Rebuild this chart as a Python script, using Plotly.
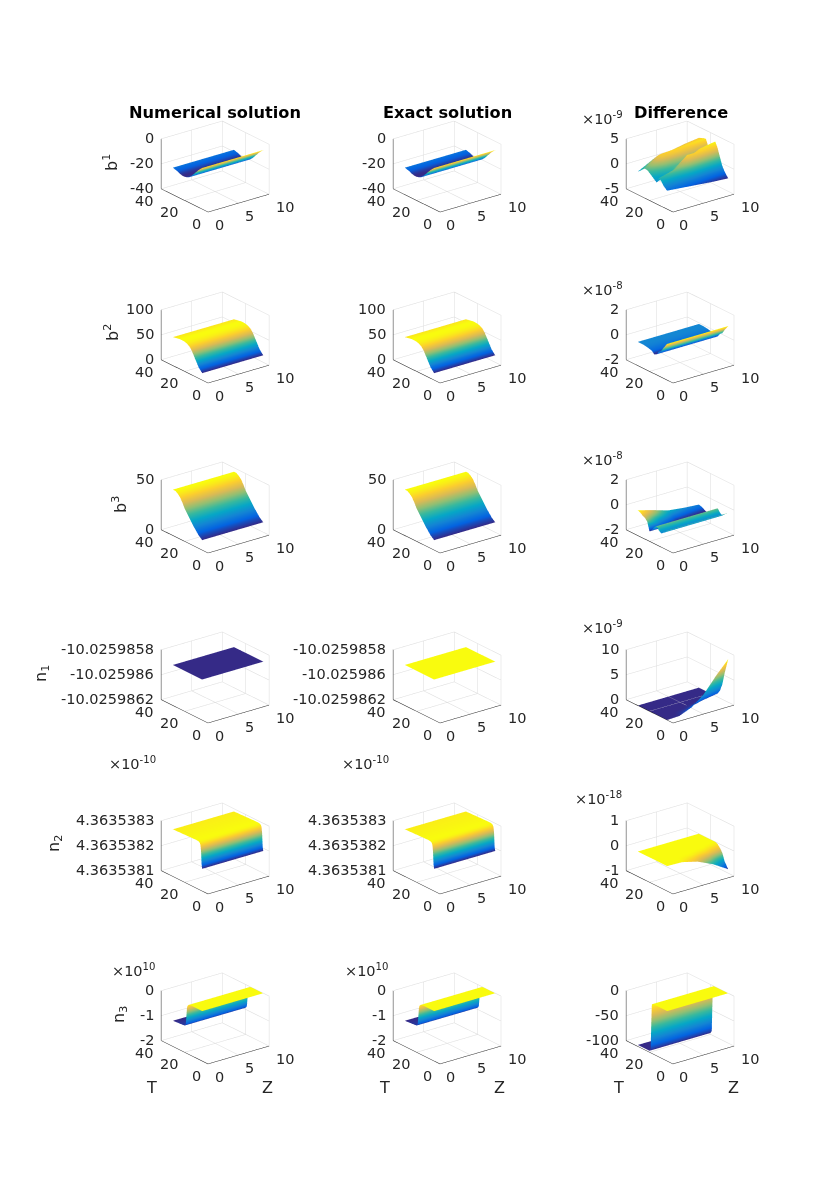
import numpy as np
import plotly.graph_objects as go

# values
T_C = [5, 8, 10, 12, 14, 16, 18, 20, 22, 24, 26, 28, 30]
T_FINE = [5, 5.5, 6, 6.5, 7, 8, 10, 15, 20, 25, 30]
T_WALL = [5, 10, 15, 16.5, 17.5, 18, 18.5, 19, 20, 25, 30]
T_END = [5, 30]
Z_EDGE = [0, 10]
Z_5 = [0, 2.5, 5, 7.5, 10]
Z_6 = [0, 2, 4, 6, 8, 10]

b1 = [-7, -10, -12.5, -15, -17.5, -19.5, -20.5, -21, -21, -20.5, -19.5, -19, -18.4]
b2 = [14, 22, 31, 40, 49, 55, 58, 59.5, 60, 60, 59, 58, 57]
b3 = [10, 13, 16, 19, 22.5, 26, 29.5, 33, 38, 42, 44.5, 46, 46]
n1 = [1.25, 1.25]  # in units of 1e-7 around -10.025986
n2 = [-0.11, 0.05, 0.6, 0.82, 0.88, 0.92, 0.93, 0.92, 0.91, 0.9, 0.89]
n3 = [0, 0, 0, -0.02, -0.08, -0.2, -0.55, -0.85, -0.93, -0.95, -0.97]

diff_b1 = [
    [-1.3, -1.6, -1.9, -2.2, -2.4],
    [-0.7, -0.8, -0.9, -1.2, -1.4],
    [0, -0.1, 0.2, -0.2, -0.5],
    [0.4, 1.2, 2.0, 1.6, 1.0],
    [-0.7, 0.6, 3.0, 3.0, 2.6],
    [-0.3, 0.1, 1.8, 3.2, 3.7],
    [0.1, 0.6, 1.0, 1.8, 2.6],
    [0.5, 1.5, 1.6, 1.7, 1.6],
    [0.85, 2.6, 2.8, 2.4, 2.0],
    [0.9, 2.9, 3.1, 3.2, 3.3],
    [0.5, 2.4, 2.7, 3.0, 3.2],
    [0, 1.8, 2.3, 2.7, 3.0],
    [-0.4, 1.2, 1.8, 2.4, 2.8],
]
diff_b2 = [0.9, 0.45, 0.1, -0.05, -0.35, -0.45, -0.25, -0.2, -0.15, -0.12, -0.1, -0.1, -0.1]
diff_b3 = [
    [-0.45, -0.45, -0.45, -0.45, -0.45],
    [-0.7, -0.7, -0.7, -0.7, -0.7],
    [-0.9, -0.9, -0.9, -0.9, -0.9],
    [-0.75, -0.75, -0.75, -0.75, -0.75],
    [-0.5, -0.5, -0.5, -0.5, -0.5],
    [-0.7, -0.7, -0.7, -0.7, -0.7],
    [-1.0, -1.0, -1.0, -1.0, -1.0],
    [-1.2, -1.2, -1.2, -1.2, -1.2],
    [-0.5, -1.0, -1.2, -1.2, -1.2],
    [-0.3, -0.8, -1.1, -1.15, -1.2],
    [-0.2, -0.55, -0.95, -1.05, -1.1],
    [-0.05, -0.4, -0.8, -0.95, -1.0],
    [0.03, -0.32, -0.7, -0.85, -0.95],
]
diff_n1 = [
    [0, 0.1, 1.1, 3, 6, 8.6],
    [0, 0.03, 0.5, 1.6, 3.5, 5.5],
    [0, 0, 0.2, 0.7, 1.8, 3.0],
    [0, 0, 0.05, 0.3, 0.8, 1.5],
    [0, 0, 0, 0.1, 0.3, 0.7],
    [0, 0, 0, 0, 0.1, 0.3],
    [0, 0, 0, 0, 0.02, 0.1],
    [0, 0, 0, 0, 0, 0],
    [0, 0, 0, 0, 0, 0],
    [0, 0, 0, 0, 0, 0],
    [0, 0, 0, 0, 0, 0],
    [0, 0, 0, 0, 0, 0],
    [0, 0, 0, 0, 0, 0],
]
diff_n2 = [
    [0, -0.02, -0.18, -0.46, -0.84],
    [0, 0, -0.08, -0.25, -0.6],
    [0, 0, -0.02, -0.1, -0.3],
    [0, 0, 0, -0.03, -0.15],
    [0, 0, 0, 0, -0.05],
    [0, 0, 0, 0, 0],
    [0, 0, 0, 0, 0],
    [0, 0, 0, 0, 0],
    [0, 0, 0, 0, 0],
    [0, 0, 0, 0, 0],
    [0, 0, 0, 0, 0],
    [0, 0, 0, 0, 0],
    [0, 0, 0, 0, 0],
]
diff_n3 = [0, 0, 0, -0.3, -0.6, -2, -40, -92, -97, -97, -97]

z_ticks_b1 = [-40, -20, 0]
z_ticks_b2 = [0, 50, 100]
z_ticks_b3 = [0, 50]
z_ticks_n1 = [-2, 0, 2]
z_labels_n1 = ["-10.0259862", "-10.025986", "-10.0259858"]
z_ticks_n2 = [-1, 0, 1]
z_labels_n2 = ["4.3635381", "4.3635382", "4.3635383"]
z_ticks_n3 = [-2, -1, 0]
d_ticks_b1 = [-5, 0, 5]
d_ticks_b2 = [-2, 0, 2]
d_ticks_n1 = [0, 5, 10]
d_ticks_n2 = [-1, 0, 1]
d_ticks_n3 = [-100, -50, 0]
z_ticks_axis = [0, 5, 10]
t_ticks_axis = [0, 20, 40]

titles = ["Numerical solution", "Exact solution", "Difference"]

parula = [[0, "#352a87"], [0.125, "#0363e1"], [0.25, "#1485d4"], [0.375, "#06a7c6"],
          [0.5, "#38b99e"], [0.625, "#92bf73"], [0.75, "#d9ba56"], [0.875, "#fcce2e"],
          [1, "#f9fb0e"]]

W, H = 830, 1195
FONT = "DejaVu Sans"
INK = "#262626"
COL_X = [208, 440, 673]
ROW_Y = [212, 383, 553, 723, 894, 1064]

# one scene for all panels: browsers cap the number of webgl contexts below 18
BOX = 600
ASPECT = 2.008  # orthographic zoom in plotly comes from the aspect ratio, not the eye distance
EYE_R = 2.0
BOX_XY, BOX_Z = 77, 54
AZ, EL = np.radians(37.5), np.radians(22.4)
RIGHT = np.array([np.cos(AZ), -np.sin(AZ), 0])
UP = np.array([np.sin(AZ) * np.sin(EL), np.cos(AZ) * np.sin(EL), np.cos(EL)])

fig = go.Figure()
grid_x, grid_y, grid_z = [], [], []
axis_x, axis_y, axis_z = [], [], []
notes = []


def flat(profile):
    return np.column_stack([profile, profile])


def add_segment(xs, ys, zs, a, b):
    xs += [a[0], b[0], None]
    ys += [a[1], b[1], None]
    zs += [a[2], b[2], None]


def add_panel(row, col, T, Z, z, zlim, ticks, labels=None, cmin=None, cmax=None):
    z = np.asarray(z, dtype=float)
    origin = (COL_X[col] - W / 2) * RIGHT + (H / 2 - ROW_Y[row]) * UP

    def to_world(a, b, c):
        return (origin[0] + np.asarray(a, dtype=float) / 10 * BOX_XY,
                origin[1] + np.asarray(b, dtype=float) / 40 * BOX_XY,
                origin[2] + (np.asarray(c, dtype=float) - zlim[0]) / (zlim[1] - zlim[0]) * BOX_Z)

    wx, wy, _ = to_world(Z, T, zlim[0])
    _, _, wz = to_world(0, 0, z)
    fig.add_trace(go.Surface(x=wx, y=wy, z=wz, surfacecolor=z, colorscale=parula, showscale=False,
                             cmin=z.min() if cmin is None else cmin, cmax=z.max() if cmax is None else cmax,
                             hoverinfo="skip", contours=dict(x=dict(highlight=False), y=dict(highlight=False), z=dict(highlight=False)),
                             lighting=dict(ambient=1, diffuse=0, specular=0, fresnel=0, roughness=1)))

    # back walls and floor
    for v in z_ticks_axis:
        add_segment(grid_x, grid_y, grid_z, to_world(v, 0, zlim[0]), to_world(v, 40, zlim[0]))
        add_segment(grid_x, grid_y, grid_z, to_world(v, 40, zlim[0]), to_world(v, 40, zlim[1]))
    for v in t_ticks_axis:
        add_segment(grid_x, grid_y, grid_z, to_world(0, v, zlim[0]), to_world(10, v, zlim[0]))
        add_segment(grid_x, grid_y, grid_z, to_world(10, v, zlim[0]), to_world(10, v, zlim[1]))
    for v in ticks:
        add_segment(grid_x, grid_y, grid_z, to_world(0, 40, v), to_world(10, 40, v))
        add_segment(grid_x, grid_y, grid_z, to_world(10, 0, v), to_world(10, 40, v))

    # dark axis lines
    add_segment(axis_x, axis_y, axis_z, to_world(0, 0, zlim[0]), to_world(10, 0, zlim[0]))
    add_segment(axis_x, axis_y, axis_z, to_world(0, 0, zlim[0]), to_world(0, 40, zlim[0]))
    add_segment(axis_x, axis_y, axis_z, to_world(0, 40, zlim[0]), to_world(0, 40, zlim[1]))

    labels = labels or [str(v) for v in ticks]
    tick_font = dict(family=FONT, size=14.5, color=INK)
    for v, dx in zip(z_ticks_axis, [11, 11, 16]):
        px, py, pz = to_world(v, 0, zlim[0])
        notes.append(dict(x=float(px), y=float(py), z=float(pz), text=str(v), showarrow=False,
                          xshift=dx, yshift=-13, font=tick_font))
    for v, dx in zip(t_ticks_axis, [-12, -16, -17]):
        px, py, pz = to_world(0, v, zlim[0])
        notes.append(dict(x=float(px), y=float(py), z=float(pz), text=str(v), showarrow=False,
                          xshift=dx, yshift=-12, font=tick_font))
    for v, txt in zip(ticks, labels):
        px, py, pz = to_world(0, 40, v)
        notes.append(dict(x=float(px), y=float(py), z=float(pz), text=txt, showarrow=False,
                          xanchor="right", xshift=-5, yshift=1, font=tick_font))


panels = [
    (0, 0, T_C, Z_EDGE, flat(b1), [-40, 0], z_ticks_b1),
    (0, 1, T_C, Z_EDGE, flat(b1), [-40, 0], z_ticks_b1),
    (0, 2, T_C, Z_5, diff_b1, [-5, 5], d_ticks_b1),
    (1, 0, T_C, Z_EDGE, flat(b2), [0, 100], z_ticks_b2),
    (1, 1, T_C, Z_EDGE, flat(b2), [0, 100], z_ticks_b2),
    (1, 2, T_C, Z_EDGE, flat(diff_b2), [-2, 2], d_ticks_b2),
    (2, 0, T_C, Z_EDGE, flat(b3), [0, 50], z_ticks_b3),
    (2, 1, T_C, Z_EDGE, flat(b3), [0, 50], z_ticks_b3),
    (2, 2, T_C, Z_5, diff_b3, [-2, 2], d_ticks_b2),
    (3, 0, T_END, Z_EDGE, flat(n1), [-2, 2], z_ticks_n1, z_labels_n1, n1[0], n1[0] + 1),
    (3, 1, T_END, Z_EDGE, flat(n1), [-2, 2], z_ticks_n1, z_labels_n1, n1[0] - 1, n1[0]),
    (3, 2, T_C, Z_6, diff_n1, [0, 10], d_ticks_n1),
    (4, 0, T_FINE, Z_EDGE, flat(n2), [-1, 1], z_ticks_n2, z_labels_n2),
    (4, 1, T_FINE, Z_EDGE, flat(n2), [-1, 1], z_ticks_n2, z_labels_n2),
    (4, 2, T_C, Z_5, diff_n2, [-1, 1], d_ticks_n2),
    (5, 0, T_WALL, Z_EDGE, flat(n3), [-2, 0], z_ticks_n3),
    (5, 1, T_WALL, Z_EDGE, flat(n3), [-2, 0], z_ticks_n3),
    (5, 2, T_WALL, Z_EDGE, flat(diff_n3), [-100, 0], d_ticks_n3),
]
for p in panels:
    add_panel(*p)

fig.add_trace(go.Scatter3d(x=grid_x, y=grid_y, z=grid_z, mode="lines", hoverinfo="skip",
                           line=dict(color="#dcdcdc", width=1)))
fig.add_trace(go.Scatter3d(x=axis_x, y=axis_y, z=axis_z, mode="lines", hoverinfo="skip",
                           line=dict(color=INK, width=1)))


def label(text, x, y, size=14.5, angle=0, bold=False, anchor="center"):
    fig.add_annotation(x=x / W, y=1 - y / H, xref="paper", yref="paper", text=f"<b>{text}</b>" if bold else text,
                       showarrow=False, textangle=angle, xanchor=anchor, yanchor="middle",
                       font=dict(family=FONT, size=size, color=INK if not bold else "#000000"))


for t, x in zip(titles, [215, 447, 681]):
    label(t, x, 112, size=16.2, bold=True)
for text, x, y in [("b<sup>1</sup>", 110, 163), ("b<sup>2</sup>", 111, 333), ("b<sup>3</sup>", 120, 505),
                   ("n<sub>1</sub>", 41, 674), ("n<sub>2</sub>", 54, 844), ("n<sub>3</sub>", 119, 1015)]:
    label(text, x, y, size=16, angle=-90)
for x in [151, 384, 618]:
    label("T", x, 1087, size=16)
for x in [267, 499, 733]:
    label("Z", x, 1087, size=16)
for text, x, y in [("×10<sup>-9</sup>", 602, 118), ("×10<sup>-8</sup>", 602, 289), ("×10<sup>-8</sup>", 602, 459),
                   ("×10<sup>-9</sup>", 602, 627), ("×10<sup>-18</sup>", 598, 798),
                   ("×10<sup>-10</sup>", 132, 763), ("×10<sup>-10</sup>", 365, 763),
                   ("×10<sup>10</sup>", 134, 970), ("×10<sup>10</sup>", 367, 970)]:
    label(text, x, y, size=14.5)

hidden = dict(visible=False, range=[-BOX, BOX], autorange=False)
fig.update_layout(
    width=W, height=H, margin=dict(l=0, r=0, t=0, b=0), paper_bgcolor="white", showlegend=False,
    font=dict(family=FONT),
    scene=dict(domain=dict(x=[0, 1], y=[0, 1]), xaxis=hidden, yaxis=hidden, zaxis=hidden,
               aspectmode="manual", aspectratio=dict(x=ASPECT, y=ASPECT, z=ASPECT),
               camera=dict(projection=dict(type="orthographic"), up=dict(x=0, y=0, z=1),
                           center=dict(x=0, y=0, z=0),
                           eye=dict(x=-EYE_R * np.sin(AZ) * np.cos(EL), y=-EYE_R * np.cos(AZ) * np.cos(EL),
                                    z=EYE_R * np.sin(EL))),
               annotations=notes))
fig.write_html("out.html", config={"displayModeBar": False}, post_script="document.body.style.margin = '0';")
